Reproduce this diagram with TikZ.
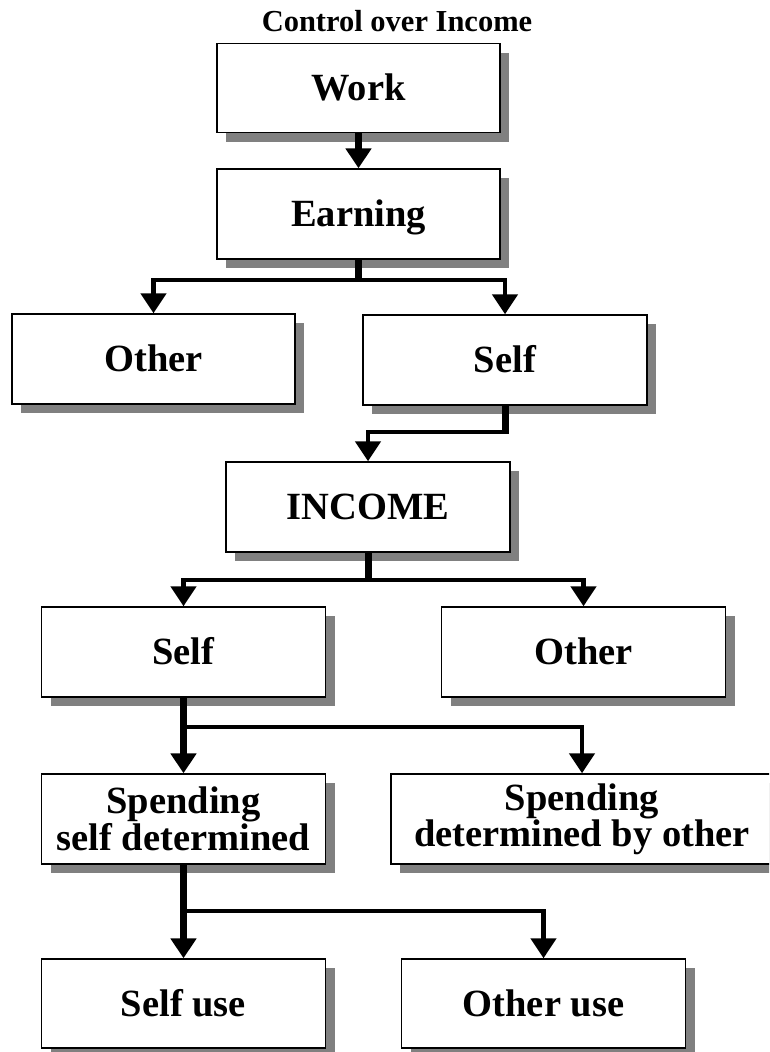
\documentclass[tikz,border=0pt]{standalone}
\usepackage{fontspec}
\setmainfont{Liberation Serif}
\usetikzlibrary{arrows.meta,shadows}
\begin{document}
\begin{tikzpicture}[x=1pt,y=-1pt,
  box/.style={draw=black, line width=1.4pt, fill=white,
    minimum width=284pt, minimum height=90pt, inner sep=0pt, align=center,
    font=\fontsize{38.5}{35}\selectfont\bfseries,
    drop shadow={shadow xshift=9pt, shadow yshift=-9pt, fill=black!50, opacity=1}},
  oneline/.style={text height=25.5pt, text depth=0pt},
  trunk/.style={line width=7pt},
  branch/.style={line width=4.5pt, line join=miter},
  tip/.style={-{Triangle[width=25pt,length=20pt]}},
  title/.style={font=\fontsize{30.5}{32}\selectfont\bfseries, inner sep=0pt, anchor=base}]
\useasboundingbox (0,0) rectangle (769,1052);
\clip (0,0) rectangle (769,1052);

% heading
\node[title] (head) at (397,31) {Control over Income};

% boxes
\node[box,oneline,minimum width=283pt,minimum height=89pt] (work) at (358.5,88) {Work};
\node[box,oneline,minimum width=283pt] (earning) at (358.5,214) {Earning};
\node[box,oneline,minimum width=283pt] (other1) at (153.5,359) {Other};
\node[box,oneline] (self1) at (505,360) {Self};
\node[box,oneline] (income) at (368,507) {INCOME};
\node[box,oneline] (self2) at (183.5,652) {Self};
\node[box,oneline] (other2) at (583.5,652) {Other};
\node[box] (spendself) at (183.5,819) {Spending\\self determined};
\node[box,minimum width=382pt] (spendother) at (582,819) {Spending\\determined by other};
\node[box,oneline,minimum height=89pt] (selfuse) at (183.5,1003.5) {Self use};
\node[box,oneline,minimum height=89pt] (otheruse) at (543.5,1003.5) {Other use};

% junction points
\coordinate (ej) at (358.5,280);
\coordinate (sj) at (505,432);
\coordinate (ij) at (368,580);
\coordinate (pj) at (183.5,727);
\coordinate (qj) at (183.5,911);

% connectors
\draw[trunk,tip] (work.south) -- (earning.north);

\draw[trunk] (earning.south) -- ([yshift=-2.25pt]ej);
\draw[branch,tip] (ej) -| (other1.north);
\draw[branch,tip] (ej) -| (self1.north);

\draw[trunk] (self1.south) -- ([yshift=-2.25pt]sj);
\draw[branch,tip] (sj) -| (income.north);

\draw[trunk] (income.south) -- ([yshift=-2.25pt]ij);
\draw[branch,tip] (ij) -| (self2.north);
\draw[branch,tip] (ij) -| (other2.north);

\draw[trunk,tip] (self2.south) -- (spendself.north);
\draw[branch,tip] (pj) -| (spendother.north);

\draw[trunk,tip] (spendself.south) -- (selfuse.north);
\draw[branch,tip] (qj) -| (otheruse.north);
\end{tikzpicture}
\end{document}
